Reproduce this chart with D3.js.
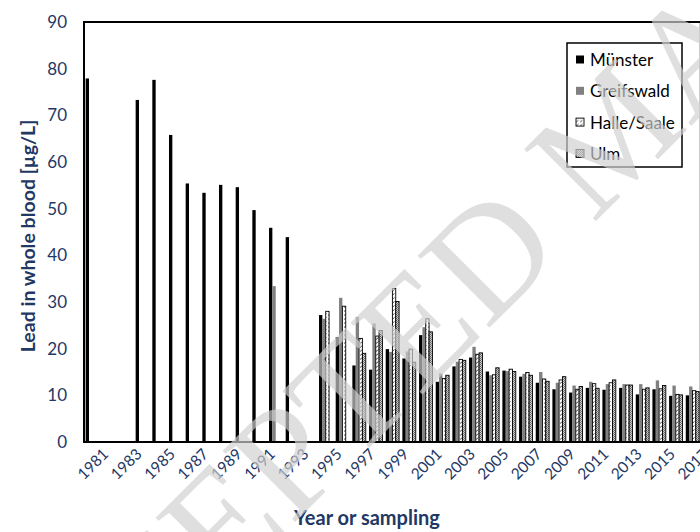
<!DOCTYPE html>
<html>
<head>
<meta charset="utf-8">
<script src="https://cdn.jsdelivr.net/npm/d3@7"></script>
<style>
  body { margin: 0; background: #fff; }
  svg { display: block; }
</style>
</head>
<body>
<svg id="chart" width="700" height="532"></svg>
<script>
// Lead in whole blood, German Environmental Specimen Bank sampling sites
const years = [1981, 1982, 1983, 1984, 1985, 1986, 1987, 1988, 1989, 1990,
               1991, 1992, 1993, 1994, 1995, 1996, 1997, 1998, 1999, 2000,
               2001, 2002, 2003, 2004, 2005, 2006, 2007, 2008, 2009, 2010,
               2011, 2012, 2013, 2014, 2015, 2016, 2017];
const yearLabels = [1981, 1983, 1985, 1987, 1989, 1991, 1993, 1995, 1997, 1999,
                    2001, 2003, 2005, 2007, 2009, 2011, 2013, 2015, 2017];
const seriesNames = ["Münster", "Greifswald", "Halle/Saale", "Ulm"];

const muenster = [77.9, null, null, 73.3, 77.6, 65.8, 55.4, 53.4, 55.1, 54.6,
                  49.7, 45.9, 43.9, null, 27.2, 22.5, 16.4, 15.5, 19.9, 17.9,
                  22.9, 12.9, 16.2, 18.1, 15.1, 15.3, 14.0, 12.7, 11.3, 10.6,
                  11.6, 11.2, 11.6, 10.2, 11.3, 9.9, 10.0];
const greifswald = [null, null, null, null, null, null, null, null, null, null,
                    null, 33.4, null, null, 26.4, 30.9, 26.8, 25.4, 19.3, 19.4,
                    24.6, 14.7, 17.2, 20.4, 14.3, 15.2, 14.6, 15.0, 12.7, 12.1,
                    12.9, 12.4, 12.4, 12.4, 13.2, 12.1, 11.9];
const halle = [null, null, null, null, null, null, null, null, null, null,
               null, null, null, null, 28.0, 29.1, 22.2, 22.7, 32.9, 19.9,
               26.4, 13.6, 17.7, 18.8, 14.4, 15.6, 14.9, 13.5, 13.3, 11.3,
               12.5, 12.7, 12.2, 11.3, 11.4, 10.2, 11.0];
const ulm = [null, null, null, null, null, null, null, null, null, null,
             null, null, null, null, null, null, 19.0, 23.9, 30.1, 17.1,
             23.6, 14.3, 17.5, 19.1, 15.9, 15.1, 14.3, 13.0, 14.0, 11.9,
             11.5, 13.3, 12.2, 11.6, 12.1, 10.1, 10.8];
const yTicks = [0, 10, 20, 30, 40, 50, 60, 70, 80, 90];

const seriesValues = [muenster, greifswald, halle, ulm];
const navy = "#1f3864";
const font = "Lato, 'Open Sans', sans-serif";

const svg = d3.select("#chart");
const defs = svg.append("defs");

// fill patterns for the two hatched series
const pHalle = defs.append("pattern").attr("id", "pat-halle")
  .attr("patternUnits", "userSpaceOnUse").attr("width", 4).attr("height", 4);
pHalle.append("rect").attr("width", 4).attr("height", 4).attr("fill", "#fff");
pHalle.append("path").attr("d", "M0,3.5 L2.5,1.5").attr("stroke", "#222").attr("stroke-width", 0.8);

const pUlm = defs.append("pattern").attr("id", "pat-ulm")
  .attr("patternUnits", "userSpaceOnUse").attr("width", 2).attr("height", 2);
pUlm.append("rect").attr("width", 2).attr("height", 2).attr("fill", "#cfcfcf");
pUlm.append("rect").attr("width", 1).attr("height", 1).attr("fill", "#5e5e5e");
pUlm.append("rect").attr("x", 1).attr("y", 1).attr("width", 1).attr("height", 1).attr("fill", "#7a7a7a");

const styles = [
  { fill: "#000", stroke: "none" },
  { fill: "#808080", stroke: "none" },
  { fill: "url(#pat-halle)", stroke: "#000" },
  { fill: "url(#pat-ulm)", stroke: "#000" }
];

const plotLeft = 84, plotTop = 22, plotBottom = 442;
const plotRight = plotLeft + years.length * 16.67;

const x = d3.scaleBand().domain(years).range([plotLeft, plotRight]);
const xs = d3.scaleBand().domain(seriesNames).range([0, x.bandwidth()]).paddingOuter(0.49);
const y = d3.scaleLinear().domain([0, 90]).range([plotBottom, plotTop]);

// bars
seriesNames.forEach((name, si) => {
  const pts = years.map((yr, i) => ({ year: yr, v: seriesValues[si][i] })).filter(d => d.v != null);
  svg.append("g").selectAll("rect").data(pts).join("rect")
    .attr("x", d => x(d.year) + xs(name))
    .attr("y", d => y(d.v))
    .attr("width", xs.bandwidth())
    .attr("height", d => y(0) - y(d.v))
    .attr("fill", styles[si].fill)
    .attr("stroke", styles[si].stroke)
    .attr("stroke-width", 0.9);
});

// plot frame
svg.append("rect")
  .attr("x", plotLeft).attr("y", plotTop)
  .attr("width", plotRight - plotLeft).attr("height", plotBottom - plotTop)
  .attr("fill", "none").attr("stroke", "#000").attr("stroke-width", 2);

// y axis
const yAxis = svg.append("g").attr("transform", `translate(${plotLeft},0)`)
  .call(d3.axisLeft(y).tickValues(yTicks).tickSize(0).tickPadding(17));
yAxis.select(".domain").remove();
yAxis.selectAll("text").attr("fill", navy).style("font-family", font).style("font-size", "17px");

// x axis
const xAxis = svg.append("g").attr("transform", `translate(0,${plotBottom})`)
  .call(d3.axisBottom(x).tickValues(yearLabels).tickSize(0));
xAxis.select(".domain").remove();
xAxis.selectAll("text")
  .attr("fill", navy).style("font-family", font).style("font-size", "15.5px")
  .attr("text-anchor", "end")
  .attr("dy", 0)
  .attr("transform", "translate(15,11) rotate(-45)");

// axis titles
svg.append("text")
  .attr("transform", "translate(35,236) rotate(-90)")
  .attr("text-anchor", "middle")
  .attr("fill", navy).style("font-family", font).style("font-weight", "bold").style("font-size", "19.5px")
  .text("Lead in whole blood [µg/L]");
svg.append("text")
  .attr("x", 367).attr("y", 525)
  .attr("text-anchor", "middle")
  .attr("fill", navy).style("font-family", font).style("font-weight", "bold").style("font-size", "20px")
  .text("Year or sampling");

// legend
const legend = svg.append("g").attr("transform", "translate(567,43)");
legend.append("rect").attr("width", 115).attr("height", 124)
  .attr("fill", "#fff").attr("stroke", "#000").attr("stroke-width", 1.5);
seriesNames.forEach((name, i) => {
  const g = legend.append("g").attr("transform", `translate(9,${17 + i * 31.3})`);
  g.append("rect").attr("x", 0).attr("y", -4.5).attr("width", 8).attr("height", 8)
    .attr("fill", styles[i].fill).attr("stroke", styles[i].stroke).attr("stroke-width", 0.9);
  g.append("text").attr("x", 14).attr("y", 0).attr("dy", "0.35em")
    .attr("fill", "#000").style("font-family", font).style("font-size", "17px")
    .text(name);
});

// diagonal watermark
svg.append("text")
  .attr("transform", "translate(-1,818) rotate(-45)")
  .attr("fill", "#d0d0d0").attr("opacity", 0.68)
  .style("font-family", "'Liberation Serif', 'DejaVu Serif', serif")
  .style("font-size", "155px")
  .text("ACCEPTED MANUSCRIPT");
</script>
</body>
</html>
